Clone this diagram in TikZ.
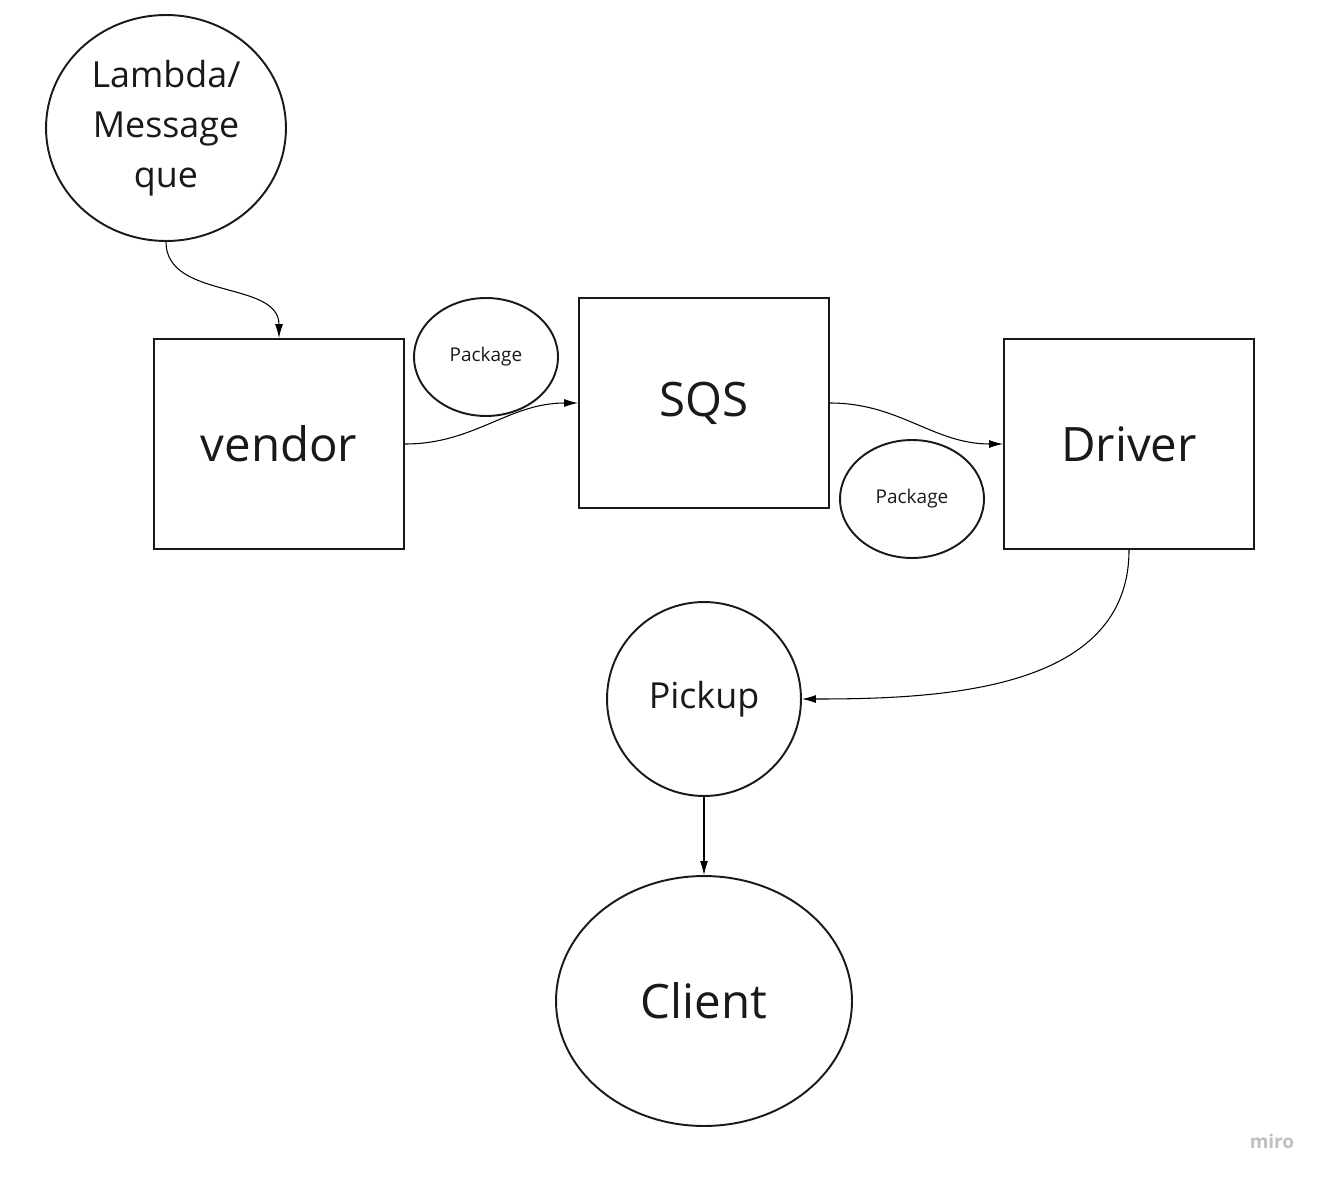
\documentclass[tikz,border=0pt]{standalone}
\usepackage{fontspec}
\setmainfont{Open Sans}
\usetikzlibrary{shapes.geometric,arrows.meta}
\begin{document}
\begin{tikzpicture}[
    x=0.02cm, y=-0.02cm,
    box/.style={draw=black!90,line width=1.1pt,minimum width=5cm,minimum height=4.2cm,inner sep=0pt,text=black!90,font=\fontsize{27}{32}\selectfont},
    blob/.style={ellipse,draw=black!90,line width=1.1pt,inner sep=0pt,align=center,text=black!90},
    trans/.style={line width=0.6pt,-{Latex[length=2.8mm,width=1.6mm]}}
    ]
    \useasboundingbox (0,0) rectangle (1324,1179);
    \node[blob,minimum width=4.8cm,minimum height=4.52cm,font=\fontsize{20.4}{28.4}\selectfont] (lam) at (166,128) {Lambda/\\Message\\que};
    \node[box] (vendor) at (279,444) {vendor};
    \node[box] (sqs) at (704,403) {SQS};
    \node[box] (driver) at (1129,444) {Driver};
    \node[blob,minimum width=2.88cm,minimum height=2.36cm,font=\fontsize{10.8}{13}\selectfont] (pkga) at (486,357) {Package};
    \node[blob,minimum width=2.88cm,minimum height=2.36cm,font=\fontsize{10.8}{13}\selectfont] (pkgb) at (912,499) {Package};
    \node[blob,minimum width=3.88cm,minimum height=3.88cm,font=\fontsize{20.4}{24}\selectfont] (pickup) at (704,699) {Pickup};
    \node[blob,minimum width=5.92cm,minimum height=5cm,font=\fontsize{27}{32}\selectfont] (client) at (704,1001) {Client};
    \node[text=black!25,font=\bfseries\fontsize{10.8}{13}\selectfont] (miro) at (1272,1141) {miro};
    \draw[trans] (lam.south) to[out=-90,in=90] (vendor.north);
    \draw[trans] (vendor.east) to[out=0,in=180] (sqs.west);
    \draw[trans] (sqs.east) to[out=0,in=180] (driver.west);
    \draw[trans] (driver.south) to[out=-90,in=0] (pickup.east);
    \draw[trans] (pickup.south) -- (client.north);
  \end{tikzpicture}
\end{document}
